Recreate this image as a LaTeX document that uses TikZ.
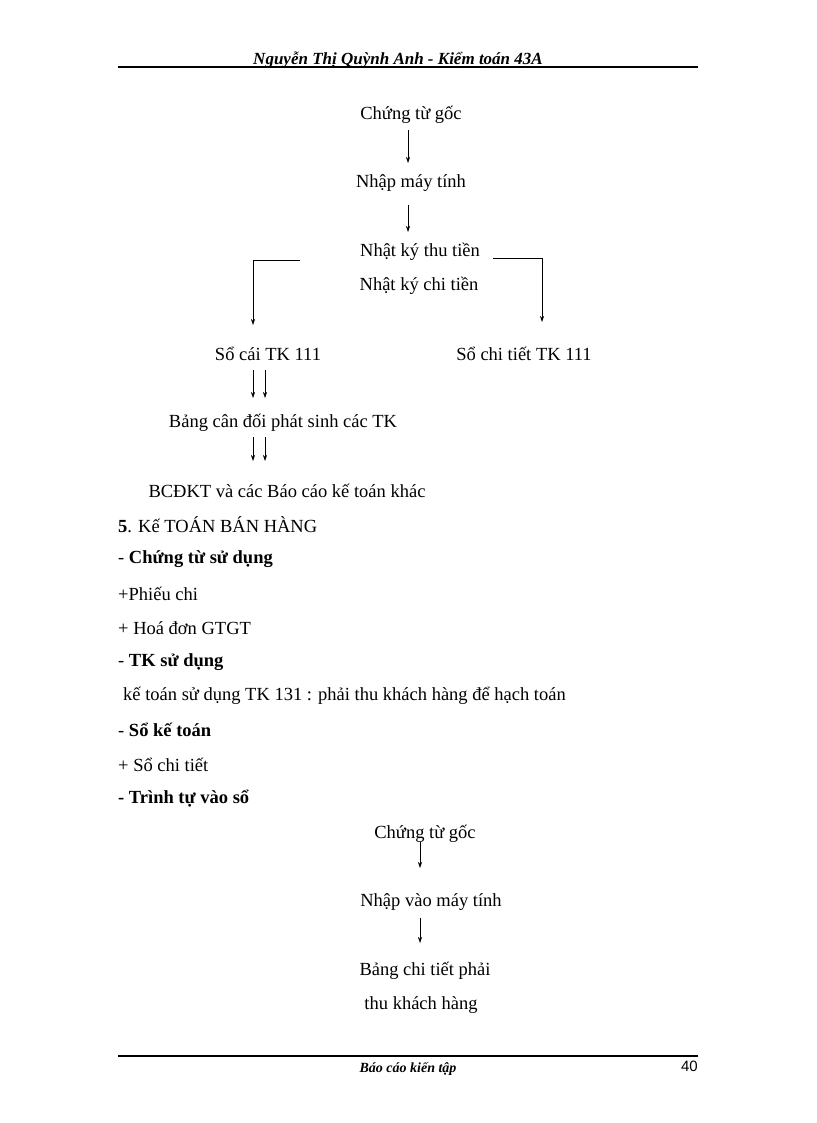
\documentclass[tikz,border=0pt]{standalone}
\usepackage{fontspec}
\setmainfont{Liberation Serif}
\newfontfamily\sansf{Liberation Sans}
\usetikzlibrary{arrows.meta}
\begin{document}
\begin{tikzpicture}[x=1pt,y=-1pt,
  t/.style={inner sep=0pt,font=\fontsize{18.5}{20}\selectfont},
  l/.style={t,anchor=west},
  ar/.style={-{Stealth[length=6pt,width=4pt]},line width=0.6pt}]
\useasboundingbox[fill=white] (0,0) rectangle (816,1123);
\node[t,font=\fontsize{17}{18}\selectfont\itshape\bfseries] (hd) at (398,60) {Nguyễn Thị Quỳnh Anh - Kiểm toán 43A};
\draw[line width=1.5pt] (118,67) coordinate (h1) -- (698,67) coordinate (h2);
\draw[line width=1.5pt] (118,1056) coordinate (f1) -- (698,1056) coordinate (f2);
\node[t,font=\fontsize{14}{16}\selectfont\itshape\bfseries] (ft) at (408,1069) {Báo cáo kiến tập};
\node[t,anchor=east,font=\sansf\fontsize{15}{16}\selectfont] (pg) at (698,1066) {40};
\node[t] (a) at (411,115) {Chứng từ gốc};
\node[t] (b) at (411,183) {Nhập máy tính};
\node[t] (c1) at (420,252) {Nhật ký thu tiền};
\node[t] (c2) at (419,286) {Nhật ký chi tiền};
\node[t] (d) at (268,354) {Sổ cái TK 111};
\node[t] (e) at (524,354) {Sổ chi tiết TK 111};
\node[t] (f) at (283,423) {Bảng cân đối phát sinh các TK};
\node[t] (g) at (287,491) {BCĐKT và các Báo cáo kế toán khác};
\draw[ar] (408,130) -- (408,163);
\draw[ar] (408,205) -- (408,232);
\draw[ar] (300,260) -- (253,260) -- (253,325);
\draw[ar] (493,258) -- (542,258) -- (542,322);
\draw[ar] (253,370) -- (253,398);
\draw[ar] (265,370) -- (265,398);
\draw[ar] (253,437) -- (253,461);
\draw[ar] (265,437) -- (265,461);
\node[l] (s1) at (118,525) {\textbf{5}. Kế TOÁN BÁN HÀNG};
\node[l] (s2) at (118,559) {- \textbf{Chứng từ sử dụng}};
\node[l] (s3) at (118,594) {+Phiếu chi};
\node[l] (s4) at (118,628) {+ Hoá đơn GTGT};
\node[l] (s5) at (118,662) {- \textbf{TK sử dụng}};
\node[l] (s6) at (123,696) {kế toán sử dụng TK 131 : phải thu khách hàng để hạch toán};
\node[l] (s7) at (118,730) {- \textbf{Sổ kế toán}};
\node[l] (s8) at (118,765) {+ Sổ chi tiết};
\node[l] (s9) at (118,799) {\textbf{- Trình tự vào sổ}};
\node[t] (p) at (425,834) {Chứng từ gốc};
\node[t] (q) at (431,902) {Nhập vào máy tính};
\node[t] (r1) at (425,971) {Bảng chi tiết phải};
\node[t] (r2) at (421,1005) {thu khách hàng};
\draw[ar] (420,842) -- (420,868);
\draw[ar] (420,918) -- (420,943);
\end{tikzpicture}
\end{document}
